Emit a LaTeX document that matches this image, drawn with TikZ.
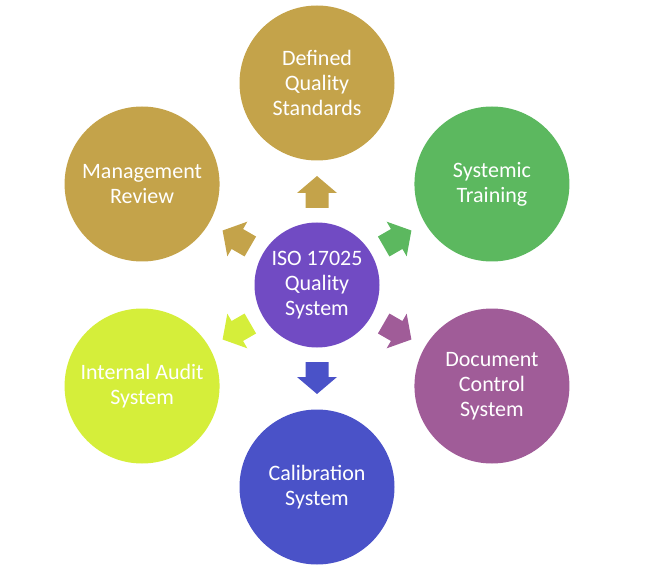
\documentclass[tikz,border=0pt]{standalone}
\usepackage{fontspec}
\setmainfont{Carlito}
\definecolor{gold}{RGB}{196,163,74}
\definecolor{grass}{RGB}{92,184,95}
\definecolor{violet}{RGB}{113,75,195}
\definecolor{mauve}{RGB}{160,92,152}
\definecolor{royal}{RGB}{74,82,200}
\definecolor{lime}{RGB}{213,238,58}
\tikzset{
  topic/.style={circle, minimum size=155pt, inner sep=0pt, text=white, align=center,
    font=\fontsize{22}{25}\selectfont},
  hub/.style={topic, minimum size=125pt}
}
\begin{document}
\begin{tikzpicture}[x=1pt,y=1pt]
\def\blockarrow{(-11.5,0) -- (11.5,0) -- (11.5,15) -- (20,15) -- (0,32) -- (-20,15) -- (-11.5,15) -- cycle}
\useasboundingbox (0,0) rectangle (650,571);

\begin{scope}[shift={(317,286)}]
\node[hub, fill=violet] (iso) at (0,0) {ISO 17025\\Quality\\System};

\node[topic, fill=gold] (std) at (90:202) {Defined\\Quality\\Standards};
\node[topic, fill=grass] (trn) at (30:202) {Systemic\\Training};
\node[topic, fill=mauve] (doc) at (-30:202) {Document\\Control\\System};
\node[topic, fill=royal] (cal) at (-90:202) {Calibration\\System};
\node[topic, fill=lime] (aud) at (210:202) {Internal Audit\\System};
\node[topic, fill=gold] (rev) at (150:202) {Management\\Review};

% block arrows from the hub
\foreach \ang/\col in {90/gold, 30/grass, -30/mauve, -90/royal, 210/lime, 150/gold}
  \fill[\col, shift={(\ang:77)}, rotate=\ang-90] \blockarrow;
\end{scope}
\end{tikzpicture}
\end{document}
